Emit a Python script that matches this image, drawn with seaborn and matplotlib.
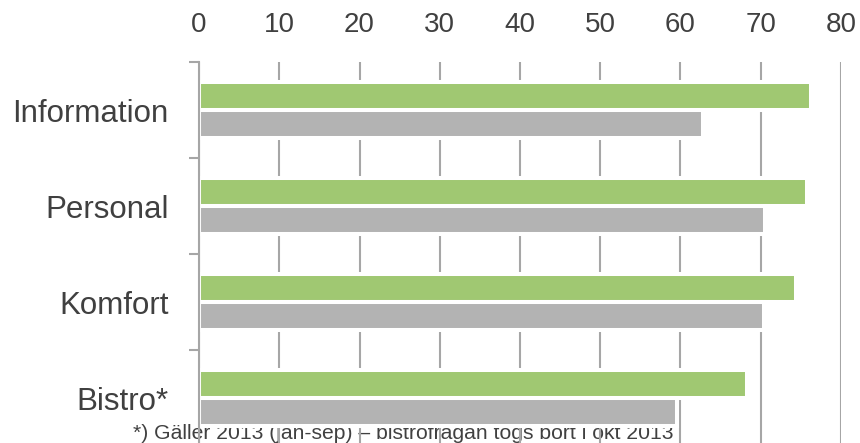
import pandas as pd
import matplotlib
matplotlib.use("Agg")
import matplotlib.pyplot as plt
import seaborn as sns

categories = ["Information", "Personal", "Komfort", "Bistro*"]
series_names = ["2014", "2013"]
green_values = [76.3, 75.8, 74.4, 68.3]
gray_values = [62.8, 70.5, 70.4, 59.6]
x_ticks = [0, 10, 20, 30, 40, 50, 60, 70, 80]
footnote = "*) Gäller 2013 (jan-sep) – bistrofrågan togs bort i okt 2013"

df = pd.DataFrame({
    "kategori": categories * 2,
    "serie": [series_names[0]] * 4 + [series_names[1]] * 4,
    "varde": green_values + gray_values,
})

sns.set_style("white")
plt.rcParams['font.family'] = ['Liberation Sans', 'DejaVu Sans']

text_col = "#404040"
line_col = "#a6a6a6"

fig = plt.figure(figsize=(8.6, 4.43), dpi=100)
ax = fig.add_axes([0.2314, -0.0068, 0.7465, 0.8668])
ax.set_facecolor("none")

sns.barplot(data=df, x="varde", y="kategori", hue="serie", orient="h",
            palette=["#a1d664", "#b3b3b3"], width=0.58, gap=0,
            edgecolor="white", linewidth=2.9, legend=False, ax=ax)

ax.set_xlim(0, 80)
ax.set_ylim(3.5, -0.5)
ax.set_xticks(x_ticks)
ax.xaxis.tick_top()
ax.tick_params(axis="x", length=0, pad=17, labelsize=20, labelcolor=text_col)
ax.tick_params(axis="y", which="major", length=0, pad=22, labelsize=22.5, labelcolor=text_col)
ax.set_yticks([-0.5, 0.5, 1.5, 2.5], minor=True)
ax.tick_params(axis="y", which="minor", length=7.5, width=1.5, color=line_col, left=True)
ax.set_xlabel("")
ax.set_ylabel("")

ax.set_axisbelow(True)
ax.grid(axis="x", color=line_col, linewidth=1.5)
ax.grid(axis="y", visible=False)
for side in ["top", "right", "bottom"]:
    ax.spines[side].set_visible(False)
ax.spines["left"].set_color(line_col)
ax.spines["left"].set_linewidth(1.5)

fig.text(0.1547, 0.008, footnote, fontsize=15.2, color=text_col,
         va="baseline", zorder=-1)

fig.savefig("out.png", dpi=100)
